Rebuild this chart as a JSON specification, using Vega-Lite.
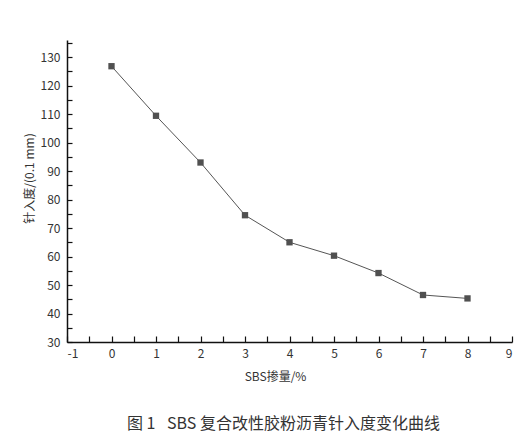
{
  "$schema": "https://vega.github.io/schema/vega-lite/v6.json",
  "autosize": "none",
  "width": 445,
  "height": 302,
  "padding": {"left": 67, "top": 40, "right": 19, "bottom": 95},
  "background": "white",
  "config": {
    "view": {"stroke": null},
    "font": "Noto Sans CJK SC",
    "axis": {
      "domainColor": "#111",
      "domainWidth": 1.5,
      "tickColor": "#111",
      "tickWidth": 1.2,
      "grid": false,
      "labelFont": "Noto Sans CJK SC",
      "labelFontSize": 12,
      "labelColor": "#333",
      "titleFont": "Noto Sans CJK SC",
      "titleFontSize": 12,
      "titleFontWeight": "normal",
      "titleColor": "#333"
    }
  },
  "title": {
    "text": "图 1\u2002 SBS 复合改性胶粉沥青针入度变化曲线",
    "orient": "bottom",
    "anchor": "middle",
    "font": "Noto Sans CJK SC",
    "fontSize": 16,
    "fontWeight": "normal",
    "color": "#333",
    "offset": 34,
    "dx": -6
  },
  "data": {
    "values": [
      {"sbs": 0, "pen": 126.8},
      {"sbs": 1, "pen": 109.4},
      {"sbs": 2, "pen": 93.0},
      {"sbs": 3, "pen": 74.5},
      {"sbs": 4, "pen": 65.0},
      {"sbs": 5, "pen": 60.3},
      {"sbs": 6, "pen": 54.2},
      {"sbs": 7, "pen": 46.5},
      {"sbs": 8, "pen": 45.3}
    ]
  },
  "encoding": {
    "x": {
      "field": "sbs",
      "type": "quantitative",
      "scale": {"domain": [-1, 9], "nice": false, "zero": false},
      "axis": {
        "title": "SBS掺量/%",
        "values": [-1, -0.5, 0, 0.5, 1, 1.5, 2, 2.5, 3, 3.5, 4, 4.5, 5, 5.5, 6, 6.5, 7, 7.5, 8, 8.5, 9],
        "labelExpr": "datum.value % 1 === 0 ? datum.value : ''",
        "tickSize": -6,
        "labelPadding": 12,
        "titlePadding": 12,
        "titleX": 208
      }
    },
    "y": {
      "field": "pen",
      "type": "quantitative",
      "scale": {"domain": [30, 136], "nice": false, "zero": false},
      "axis": {
        "title": "针入度/(0.1 mm)",
        "values": [30, 35, 40, 45, 50, 55, 60, 65, 70, 75, 80, 85, 90, 95, 100, 105, 110, 115, 120, 125, 130, 135],
        "labelExpr": "datum.value % 10 === 0 ? datum.value : ''",
        "tickSize": -5,
        "labelPadding": 12,
        "titlePadding": 4,
        "titleY": 138
      }
    }
  },
  "layer": [
    {"mark": {"type": "line", "color": "#555", "strokeWidth": 1}},
    {"mark": {"type": "square", "size": 40, "color": "#505050", "opacity": 1, "filled": true}}
  ]
}
